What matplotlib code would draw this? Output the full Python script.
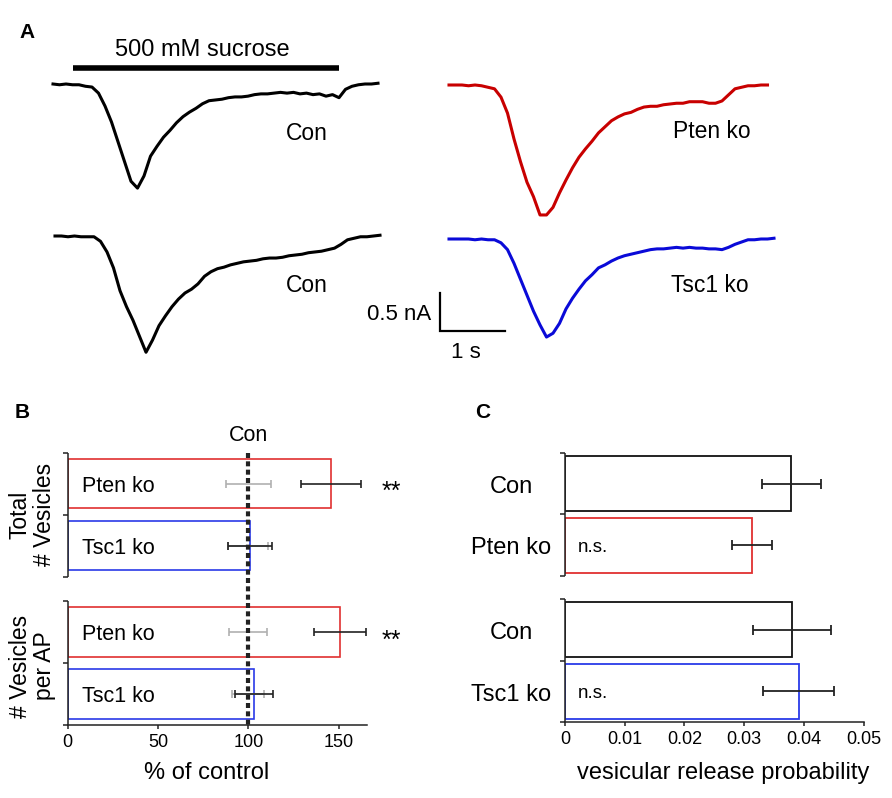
import numpy as np
import matplotlib
matplotlib.use('Agg')
import matplotlib.pyplot as plt

plt.rcParams['font.family'] = ['Liberation Sans', 'DejaVu Sans']

# ---------------- data ----------------
# Panel A: sucrose-evoked currents (nA), sampled every 0.1 s
dt = 0.1
con1_nA = [0, -0.01, 0, -0.01, -0.01, -0.03, -0.04, -0.12, -0.29, -0.50, -0.76, -1.02,
           -1.28, -1.37, -1.21, -0.95, -0.82, -0.70, -0.61, -0.51, -0.43, -0.37, -0.32,
           -0.26, -0.22, -0.21, -0.20, -0.18, -0.17, -0.17, -0.16, -0.14, -0.13, -0.13,
           -0.12, -0.11, -0.12, -0.11, -0.13, -0.12, -0.14, -0.13, -0.16, -0.14, -0.18,
           -0.07, -0.03, -0.01, 0, 0, 0.01]
con2_nA = [0, 0, -0.01, 0, -0.01, -0.01, -0.01, -0.07, -0.21, -0.42, -0.72, -0.93, -1.11,
           -1.32, -1.53, -1.37, -1.18, -1.05, -0.93, -0.83, -0.75, -0.70, -0.63, -0.53,
           -0.47, -0.43, -0.41, -0.38, -0.36, -0.34, -0.33, -0.32, -0.30, -0.29, -0.29,
           -0.28, -0.26, -0.25, -0.24, -0.22, -0.21, -0.20, -0.18, -0.16, -0.11, -0.05,
           -0.03, -0.01, -0.01, 0, 0.01]
pten_nA = [0, 0, 0, -0.01, 0, -0.01, -0.03, -0.05, -0.16, -0.37, -0.71, -1.01, -1.28,
           -1.47, -1.71, -1.71, -1.61, -1.42, -1.25, -1.09, -0.95, -0.84, -0.74, -0.63,
           -0.55, -0.47, -0.42, -0.38, -0.36, -0.32, -0.29, -0.28, -0.28, -0.26, -0.25,
           -0.24, -0.24, -0.22, -0.22, -0.22, -0.24, -0.24, -0.21, -0.13, -0.05, -0.03,
           -0.01, -0.01, 0, 0]
tsc1_nA = [0, 0, 0, 0, -0.01, 0, -0.01, -0.01, -0.05, -0.14, -0.32, -0.53, -0.74, -0.95,
           -1.13, -1.29, -1.24, -1.11, -0.92, -0.78, -0.66, -0.55, -0.47, -0.38, -0.34,
           -0.29, -0.25, -0.22, -0.20, -0.18, -0.16, -0.14, -0.13, -0.13, -0.12, -0.11,
           -0.12, -0.11, -0.12, -0.12, -0.13, -0.13, -0.14, -0.11, -0.07, -0.04, -0.01,
           -0.01, 0, 0, 0.01]
trace_labels = ["Con", "Con", "Pten ko", "Tsc1 ko"]
sucrose_onset_s = 0.3
sucrose_duration_s = 4.1
scale_time_s = 1.0
scale_current_nA = 0.5

# Panel B: % of control
b_groups = ["Total\n# Vesicles", "# Vesicles\nper AP"]
b_labels = ["Pten ko", "Tsc1 ko", "Pten ko", "Tsc1 ko"]
b_values = [145.8, 100.9, 150.8, 103.2]
b_err = [16.8, 12.2, 14.2, 10.4]
b_con_err = [12.5, 11.0, 10.6, 8.8]
b_sig = ["**", "", "**", ""]
b_xticks = [0, 50, 100, 150]

# Panel C: vesicular release probability
c_labels = ["Con", "Pten ko", "Con", "Tsc1 ko"]
c_values = [0.0379, 0.0313, 0.0380, 0.0391]
c_err = [0.0049, 0.0034, 0.0065, 0.0060]
c_sig = ["", "n.s.", "", "n.s."]
c_xticks = [0, 0.01, 0.02, 0.03, 0.04, 0.05]

# ---------------- style ----------------
RED_TR, BLUE_TR = '#c80000', '#0a0ad8'
RED_BAR, BLUE_BAR = '#e03030', '#2a3ae8'

W, H = 892, 798
fig = plt.figure(figsize=(W / 100, H / 100), dpi=100)


def rect(left, top, right, bottom):
    return [left / W, 1 - bottom / H, (right - left) / W, (bottom - top) / H]


# ---------------- Panel A ----------------
PX_S, PX_NA = 65.0, 76.0
axA = fig.add_axes(rect(0, 0, W, 399))
axA.set_xlim(0, W / PX_S)
axA.set_ylim(-399 / PX_NA, 0)
axA.axis('off')


def P(xp, yp):
    return xp / PX_S, -yp / PX_NA


trace_layout = [(con1_nA, 53, 84, 'black', (307, 133)),
                (con2_nA, 55, 236, 'black', (307, 285)),
                (pten_nA, 449, 85, RED_TR, (712, 132)),
                (tsc1_nA, 449, 239, BLUE_TR, (710, 285))]
for (vals, x0, y0, col, lab), name in zip(trace_layout, trace_labels):
    t = np.arange(len(vals)) * dt
    bx, by = P(x0, y0)
    axA.plot(bx + t, by + np.array(vals), color=col, lw=2.2, solid_joinstyle='round')
    axA.text(*P(*lab), name, ha='center', va='center', fontsize=16.5)

# sucrose bar
sx, sy = P(53, 68)
axA.plot([sx + sucrose_onset_s, sx + sucrose_onset_s + sucrose_duration_s], [sy, sy],
         color='black', lw=4, solid_capstyle='butt')
axA.text(*P(202, 50), "500 mM sucrose", ha='center', va='center', fontsize=17)

# scale bar
cx, cy = P(440, 331)
axA.plot([cx, cx, cx + scale_time_s], [cy + scale_current_nA, cy, cy], color='black',
         lw=1.6, solid_joinstyle='miter')
axA.text(*P(431, 314), "0.5 nA", ha='right', va='center', fontsize=16)
axA.text(cx + scale_time_s / 2 - 0.1, P(0, 353)[1], "1 s", ha='center', va='center', fontsize=16)

# panel letters
fig.text(27 / W, 1 - 33 / H, "A", fontsize=15, fontweight='bold', ha='center', va='center')
fig.text(22 / W, 1 - 412 / H, "B", fontsize=15, fontweight='bold', ha='center', va='center')
fig.text(483 / W, 1 - 412 / H, "C", fontsize=15, fontweight='bold', ha='center', va='center')


def style_axis(ax, seg, ticks_y):
    for s in ['top', 'right', 'left']:
        ax.spines[s].set_visible(False)
    ax.spines['bottom'].set_linewidth(1.1)
    ax.spines['bottom'].set_color('#222222')
    for a, b in seg:
        ax.plot([0, 0], [a, b], color='#222222', lw=1.1, clip_on=False,
                solid_capstyle='butt', zorder=6)
    ax.set_yticks(ticks_y)
    ax.set_yticklabels([])
    ax.tick_params(axis='y', direction='out', length=3.5, width=1.1, color='#222222')
    ax.tick_params(axis='x', direction='out', length=3.2, width=1.1, color='#222222',
                   labelsize=13, pad=3)
    ax.set_facecolor('none')


# ---------------- Panel B ----------------
axB = fig.add_axes(rect(67.7, 452.7, 366.7, 725))
gapB = 0.392
yB = [0.5, 1.5, 2 + gapB + 0.5, 2 + gapB + 1.5]
axB.set_xlim(0, 165.6)
axB.set_ylim(4 + gapB, 0)
colsB = [RED_BAR, BLUE_BAR, RED_BAR, BLUE_BAR]
axB.barh(yB, b_values, height=0.8, color='white', edgecolor=colsB, linewidth=1.2, zorder=2)
axB.errorbar([100] * 4, yB, xerr=b_con_err, fmt='none', ecolor='#b0b0b0', elinewidth=1.2,
             capsize=3.2, capthick=1.2, zorder=3)
axB.errorbar(b_values, yB, xerr=b_err, fmt='none', ecolor='#222222', elinewidth=1.2,
             capsize=3.2, capthick=1.2, zorder=4)
axB.plot([100, 100], [0, 4 + gapB], color='#222222', lw=3, ls=(0, (1.2, 0.8)),
         clip_on=False, zorder=5)
axB.text(100, -0.285, "Con", ha='center', va='center', fontsize=15.5)
for y, lab, s in zip(yB, b_labels, b_sig):
    axB.text(8, y + 0.04, lab, ha='left', va='center', fontsize=15.5)
    if s:
        axB.text(179.4, y + 0.25, s, ha='center', va='baseline', fontsize=18)
style_axis(axB, [(0, 2), (2 + gapB, 4 + gapB)], [0, 1, 2, 2 + gapB, 3 + gapB, 4 + gapB])
axB.set_xticks(b_xticks)
axB.set_xticklabels([str(v) for v in b_xticks])
axB.set_xlabel("% of control", fontsize=17)
axB.xaxis.label.set_va('center')
axB.xaxis.set_label_coords(0.466, -0.176)
for gname, yc in zip(b_groups, [1.0, 2 + gapB + 1.05]):
    axB.text(-0.118, 1 - yc / (4 + gapB), gname, transform=axB.transAxes, rotation=90,
             ha='center', va='center', fontsize=16.5, linespacing=1.05,
             multialignment='center')

# ---------------- Panel C ----------------
axC = fig.add_axes(rect(565, 452.7, 863.7, 722.3))
gapC = 0.365
yC = [0.5, 1.5, 2 + gapC + 0.5, 2 + gapC + 1.5]
axC.set_xlim(0, 0.05)
axC.set_ylim(4 + gapC, 0)
colsC = ['#111111', RED_BAR, '#111111', BLUE_BAR]
axC.barh(yC, c_values, height=0.9, color='white', edgecolor=colsC, linewidth=1.3, zorder=2)
axC.errorbar(c_values, yC, xerr=c_err, fmt='none', ecolor='#222222', elinewidth=1.3,
             capsize=3.4, capthick=1.3, zorder=4)
for y, lab, s in zip(yC, c_labels, c_sig):
    axC.text(-0.00905, y + 0.05, lab, ha='center', va='center', fontsize=17)
    if s:
        axC.text(0.0022, y + 0.03, s, ha='left', va='center', fontsize=13.5)
style_axis(axC, [(0, 2), (2 + gapC, 4 + gapC)], [0, 1, 2, 2 + gapC, 3 + gapC, 4 + gapC])
axC.set_xticks(c_xticks)
axC.set_xticklabels(['0'] + ['%.2f' % v for v in c_xticks[1:]])
axC.set_xlabel("vesicular release probability", fontsize=17)
axC.xaxis.label.set_va('center')
axC.xaxis.set_label_coords(0.529, -0.188)

fig.savefig('out.png', dpi=100)
